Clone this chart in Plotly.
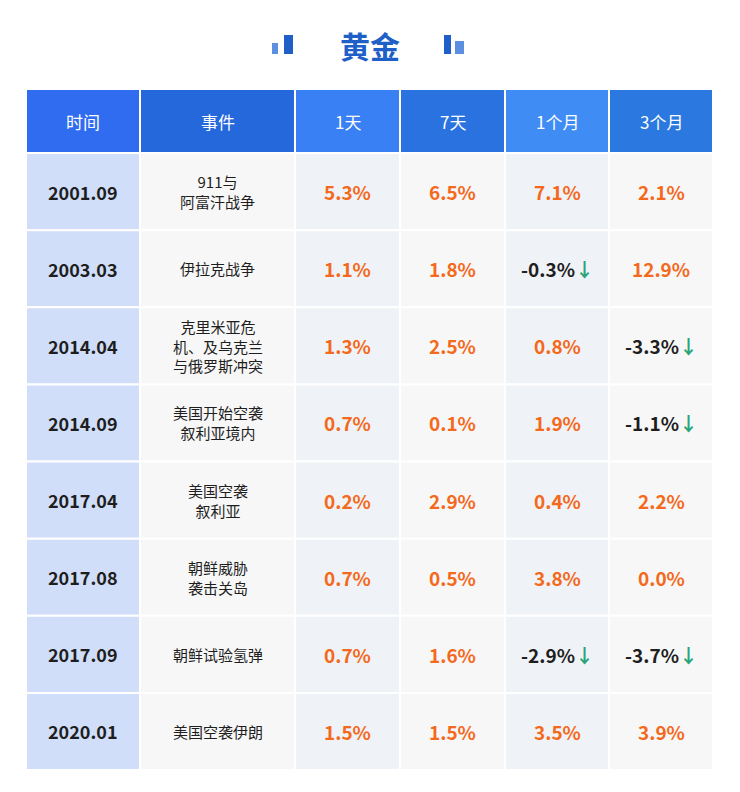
import plotly.graph_objects as go

headers = ["时间", "事件", "1天", "7天", "1个月", "3个月"]
dates = ["2001.09", "2003.03", "2014.04", "2014.09", "2017.04", "2017.08", "2017.09", "2020.01"]
events = ["911与<br>阿富汗战争", "伊拉克战争", "克里米亚危<br>机、及乌克兰<br>与俄罗斯冲突", "美国开始空袭<br>叙利亚境内",
          "美国空袭<br>叙利亚", "朝鲜威胁<br>袭击关岛", "朝鲜试验氢弹", "美国空袭伊朗"]
d1 = [5.3, 1.1, 1.3, 0.7, 0.2, 0.7, 0.7, 1.5]
d7 = [6.5, 1.8, 2.5, 0.1, 2.9, 0.5, 1.6, 1.5]
m1 = [7.1, -0.3, 0.8, 1.9, 0.4, 3.8, -2.9, 3.5]
m3 = [2.1, 12.9, -3.3, -1.1, 2.2, 0.0, -3.7, 3.9]

ORANGE = "#f4691b"
GREEN = "#2aa57a"
DARK = "#1e1e1e"
FONT = "Noto Sans CJK SC"
W, H = 740, 792
OFF = 8  # page body margin

col_edges = [26, 140, 295, 400, 505, 609, 713]
head_top, head_bot = 89, 153
row_h = (770 - 153) / 8
head_fill = ["#2f6cf0", "#2468dc", "#3a80f5", "#2a72e0", "#3f8cf5", "#2b78e0"]
body_fill = ["#d0defa", "#f7f7f7", "#eff2f6", "#f7f7f7", "#eff2f6", "#f7f7f7"]

fig = go.Figure()
shapes, annos = [], []

def rect(x0, x1, y0, y1, c):
    shapes.append(dict(type="rect", xref="x", yref="y", x0=x0, x1=x1, y0=y0, y1=y1,
                       fillcolor=c, line=dict(color="white", width=2), layer="below"))

def text(x, y, t, size, color, bold=False):
    annos.append(dict(x=x, y=y, xref="x", yref="y", text=f"<b>{t}</b>" if bold else t,
                      showarrow=False, font=dict(family=FONT, size=size, color=color),
                      xanchor="center", yanchor="middle"))

for j, h in enumerate(headers):
    x0, x1 = col_edges[j], col_edges[j + 1]
    rect(x0, x1, head_top, head_bot, head_fill[j])
    text((x0 + x1) / 2, (head_top + head_bot) / 2, h, 17, "white")

def fmt(v):
    if v < 0:
        return f"{v:.1f}%<span style='color:{GREEN}'>↓</span>", DARK
    return f"{v:.1f}%", ORANGE

for i in range(len(dates)):
    y0 = head_bot + i * row_h
    y1 = y0 + row_h
    yc = (y0 + y1) / 2
    for j in range(6):
        rect(col_edges[j], col_edges[j + 1], y0, y1, body_fill[j])
    cx = [(col_edges[j] + col_edges[j + 1]) / 2 for j in range(6)]
    text(cx[0], yc, dates[i], 18, DARK, bold=True)
    text(cx[1], yc, events[i], 15, DARK)
    for j, vals in enumerate([d1, d7, m1, m3]):
        t, c = fmt(vals[i])
        text(cx[j + 2], yc, t, 19, c, bold=True)

annos.append(dict(x=370, y=45, xref="x", yref="y", text="<b>黄金</b>", showarrow=False,
                  font=dict(family=FONT, size=30, color="#1f5fc8")))
for x0, x1, y0, y1, c in [(272, 278, 43, 54, "#5b8fe0"), (284, 293, 35, 54, "#1f5fc8"),
                          (444, 451, 35, 54, "#1f5fc8"), (455, 464, 41, 54, "#5b8fe0")]:
    shapes.append(dict(type="rect", xref="x", yref="y", x0=x0, x1=x1, y0=y0, y1=y1,
                       fillcolor=c, line_width=0))

fig.update_layout(width=W, height=H, margin=dict(l=0, r=0, t=0, b=0),
                  paper_bgcolor="white", plot_bgcolor="white",
                  shapes=shapes, annotations=annos, showlegend=False,
                  xaxis=dict(range=[OFF, W + OFF], visible=False, fixedrange=True),
                  yaxis=dict(range=[H + OFF, OFF], visible=False, fixedrange=True))
fig.write_html("out.html")
